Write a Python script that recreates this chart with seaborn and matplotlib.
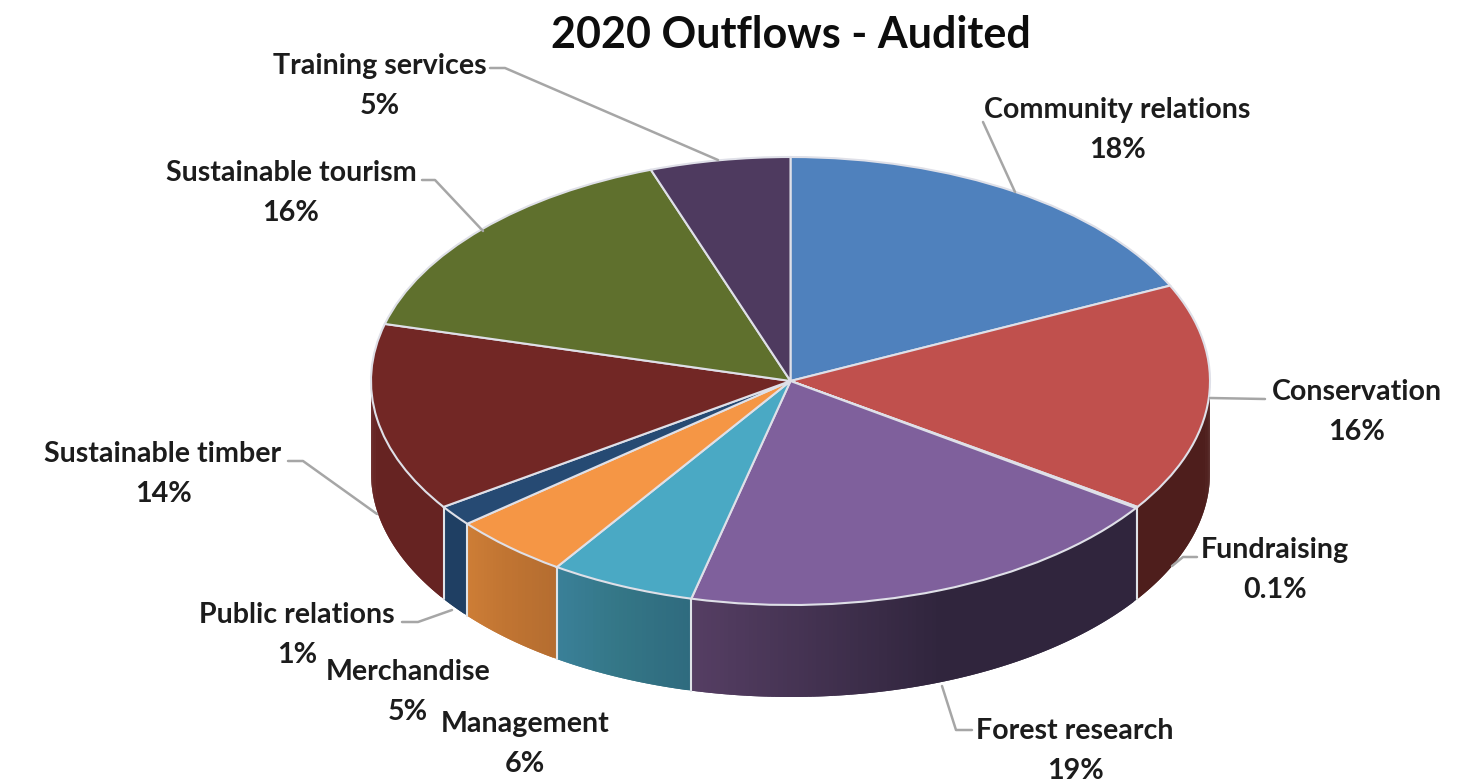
import numpy as np
import seaborn as sns
import matplotlib.pyplot as plt

categories = ['Community relations', 'Conservation', 'Fundraising', 'Forest research', 'Management',
              'Merchandise', 'Public relations', 'Sustainable timber', 'Sustainable tourism', 'Training services']
# shares as measured from the slice angles, the label text is what the chart prints
shares = [18.0, 16.5, 0.1, 19.2, 5.6, 4.6, 1.5, 13.6, 15.5, 5.4]
share_labels = ['18%', '16%', '0.1%', '19%', '6%', '5%', '1%', '14%', '16%', '5%']
top_colors = ['#4f81bd', '#c0504d', '#9bbb59', '#7f609c', '#4aa9c4', '#f59645', '#264a73', '#722725', '#5f702d', '#4e3a5f']
side_light = ['#3c618e', '#4e1e1c', '#5f702d', '#553e63', '#3a8098', '#cd7d36', '#1f3f63', '#662322', '#5f702d', '#4e3a5f']
side_mid = ['#3c618e', '#4e1e1c', '#5f702d', '#30253d', '#347686', '#c07432', '#1f3f63', '#662322', '#5f702d', '#4e3a5f']
side_dark = ['#3c618e', '#4e1e1c', '#5f702d', '#30253d', '#2f6b7f', '#b56d30', '#1f3f63', '#662322', '#5f702d', '#4e3a5f']

# label centres and leader lines, in pixels of the picture
label_pos = [(1117, 110), (1357, 392), (1275, 550), (1075, 731), (525, 724),
             (408, 672), (297, 615), (163, 454), (291, 173), (380, 66)]
leaders = [[(983, 122), (1015, 192)],
           [(1265, 399), (1210, 398)],
           [(1197, 557), (1183, 557), (1172, 566)],
           [(972, 730), (956, 730), (942, 686)],
           [(402, 622), (418, 622), (452, 610)],
           [],
           [],
           [(288, 461), (303, 461), (377, 514)],
           [(422, 180), (435, 180), (483, 231)],
           [(490, 68), (505, 68), (718, 160)]]

CX, CY, RX, RY, DEPTH = 790.5, 381, 419.5, 224, 92


def px(x, y):
    return (x - CX) / RX, (CY - y) / RY


sns.set_theme(style='white')
plt.rcParams['font.family'] = ['Lato', 'DejaVu Sans']

fig = plt.figure(figsize=(14.84, 7.82), dpi=100, facecolor='white')
ax = fig.add_axes([0, 0, 1, 1])

depth = DEPTH / RY
bounds = np.cumsum([0] + shares) / sum(shares) * 2 * np.pi

# side wall, only the front half (pi/2 to 3pi/2 clockwise from the top) shows
for i in range(len(shares)):
    a0 = max(bounds[i], np.pi / 2)
    a1 = min(bounds[i + 1], 3 * np.pi / 2)
    if a1 <= a0:
        continue
    n = max(int((a1 - a0) / 0.01), 2)
    strip = np.linspace(a0, a1, n + 1)
    # clockwise runs right to left, so the dark end comes first
    pal = sns.blend_palette([side_dark[i], side_mid[i], side_light[i]], n)
    for j in range(n):
        t = strip[j:j + 3]  # one step of overlap hides the seams
        xs = np.r_[np.sin(t), np.sin(t[::-1])]
        ys = np.r_[np.cos(t), np.cos(t[::-1]) - depth]
        ax.fill(xs, ys, color=pal[j], lw=0, zorder=1)
    if a1 < 3 * np.pi / 2 and shares[i] > 0.5:
        ax.plot([np.sin(a1)] * 2, [np.cos(a1), np.cos(a1) - depth], color='#dfe3e8', lw=1.5, zorder=2)

ax.pie(shares, colors=sns.color_palette(top_colors), startangle=90, counterclock=False, radius=1,
       wedgeprops={'edgecolor': '#dfe0e8', 'linewidth': 1.5, 'zorder': 3})
ax.set_aspect('auto')
ax.set_xlim(px(0, 0)[0], px(1484, 0)[0])
ax.set_ylim(px(0, 782)[1], px(0, 0)[1])

for name, pct, pos, line in zip(categories, share_labels, label_pos, leaders):
    ax.text(*px(*pos), name, ha='center', va='center', fontsize=20.6, fontweight='bold', color='#1c1c1c', zorder=6)
    ax.text(*px(pos[0], pos[1] + 40), pct, ha='center', va='center', fontsize=20.6, fontweight='bold',
            color='#1c1c1c', zorder=6)
    if line:
        pts = np.array([px(*p) for p in line])
        ax.plot(pts[:, 0], pts[:, 1], color='#a6a6a6', lw=1.8, zorder=5, solid_capstyle='round')

ax.text(*px(791, 35), '2020 Outflows - Audited', ha='center', va='center', fontsize=31, fontweight='bold',
        color='#0d0d0d', zorder=6)

fig.savefig('out.png', dpi=100)
